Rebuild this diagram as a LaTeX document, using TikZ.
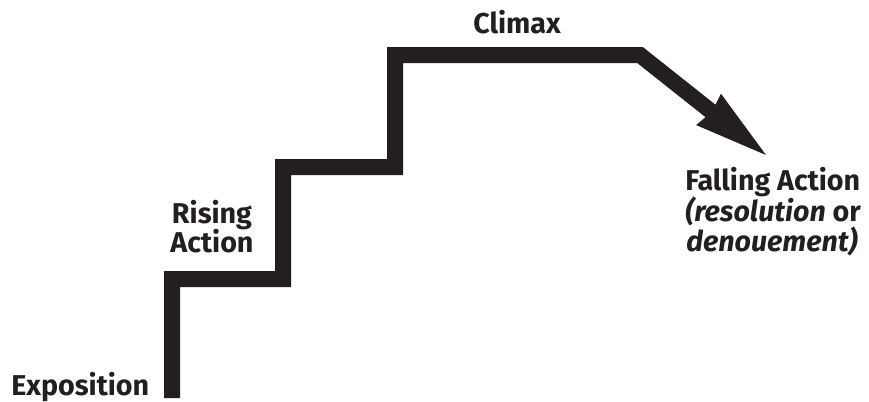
\documentclass[tikz,border=0pt]{standalone}
\usepackage{fontspec}
\setmainfont{Fira Sans}
\usetikzlibrary{arrows.meta}
\definecolor{ink}{HTML}{231F20}
\tikzset{
  stair/.style={draw=ink, line width=12pt, line join=miter, line cap=butt},
  lbl/.style={font=\fontsize{21.5}{24}\selectfont\bfseries, text=ink, inner sep=0pt},
}
\begin{document}
\begin{tikzpicture}[x=0.75pt, y=-0.75pt]
  \useasboundingbox (0,0) rectangle (869,401);
  % staircase corners
  \coordinate (s0) at (172,398);
  \coordinate (s1) at (172,279);
  \coordinate (s2) at (283,279);
  \coordinate (s3) at (283,167);
  \coordinate (s4) at (395,167);
  \coordinate (s5) at (395,55);
  \coordinate (s6) at (640,55);
  \coordinate (tip) at (766,155);
  \path[stair, -{Stealth[length=55pt, width=30pt, inset=3pt, line width=0pt]}]
    (s0) -- (s1) -- (s2) -- (s3) -- (s4) -- (s5) -- (s6) -- (tip);
  % labels
  \node[lbl, anchor=base west] (expo) at (11,395) {Exposition};
  \node[lbl, anchor=base] (rise1) at (212,223) {Rising};
  \node[lbl, anchor=base] (rise2) at (212,252) {Action};
  \node[lbl, anchor=base] (climax) at (517,33) {Climax};
  \node[lbl, anchor=base west] (fall1) at (685,190) {Falling Action};
  \node[lbl, anchor=base west] (fall2) at (685,221) {\itshape (resolution\upshape{} or};
  \node[lbl, anchor=base west] (fall3) at (686,251) {\itshape denouement)};
\end{tikzpicture}
\end{document}
